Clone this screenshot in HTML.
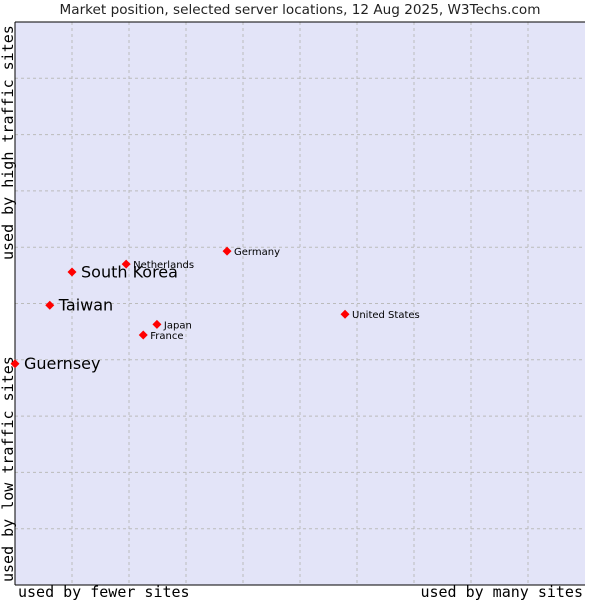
<!DOCTYPE html>
<html><head><meta charset="utf-8"><style>
body{margin:0;background:#fff;width:600px;height:600px;overflow:hidden}
svg{display:block;font-family:"DejaVu Sans","Liberation Sans",sans-serif}
</style></head><body>
<svg id="chart" width="600" height="600">
<text x="300" y="14" text-anchor="middle" font-size="13.6" fill="#222">Market position, selected server locations, 12 Aug 2025, W3Techs.com</text>
<rect x="15" y="22" width="570" height="563" fill="#e3e4f8"/>
<g id="grid"></g>
<line x1="15" y1="22" x2="585" y2="22" stroke="#000"/>
<line x1="15" y1="22" x2="15" y2="585" stroke="#000"/>
<line x1="15" y1="585" x2="585" y2="585" stroke="#000"/>
<text x="18" y="597" font-family="'DejaVu Sans Mono','Liberation Mono',monospace" font-size="15">used by fewer sites</text>
<text x="583" y="597" text-anchor="end" font-family="'DejaVu Sans Mono','Liberation Mono',monospace" font-size="15">used by many sites</text>
<text transform="translate(13,582) rotate(-90)" font-family="'DejaVu Sans Mono','Liberation Mono',monospace" font-size="15">used by low traffic sites</text>
<text transform="translate(13,260) rotate(-90)" font-family="'DejaVu Sans Mono','Liberation Mono',monospace" font-size="15">used by high traffic sites</text>
<g id="points"></g>
</svg>
<script>
const names=["Guernsey","Taiwan","South Korea","Netherlands","Germany","Japan","France","United States"];
const xVals=[0,6.1,10,19.5,37.2,24.9,22.5,57.9];
const yVals=[39.3,49.7,55.6,57.0,59.3,46.3,44.4,48.1];
const highlighted=[true,true,true,false,false,false,false,false];
const NS="http://www.w3.org/2000/svg";
const L=15,R=585,T=22,B=585;
const xs=v=>L+v/100*(R-L);
const ys=v=>B-v/100*(B-T);
const grid=document.getElementById('grid');
for(let i=1;i<10;i++){
  const x=L+i*(R-L)/10,y=T+i*(B-T)/10;
  const v=document.createElementNS(NS,'line');
  
  
  v.setAttribute('x1',x);v.setAttribute('x2',x);v.setAttribute('y1',T);v.setAttribute('y2',B);
  v.setAttribute('stroke','#bbb');v.setAttribute('stroke-dasharray','3,3');
  grid.appendChild(v);
  const h=document.createElementNS(NS,'line');
  
  
  h.setAttribute('x1',L);h.setAttribute('x2',R);h.setAttribute('y1',y);h.setAttribute('y2',y);
  h.setAttribute('stroke','#bbb');h.setAttribute('stroke-dasharray','3,3');
  grid.appendChild(h);
}
const pts=document.getElementById('points');
names.forEach((n,i)=>{
  const x=xs(xVals[i]),y=ys(yVals[i]);
  const d=document.createElementNS(NS,'polygon');
  
  
  d.setAttribute('points',`${x},${y-4.5} ${x+4.5},${y} ${x},${y+4.5} ${x-4.5},${y}`);
  d.setAttribute('fill','#f00');
  pts.appendChild(d);
  const t=document.createElementNS(NS,'text');
  
  
  t.setAttribute('x',x+(highlighted[i]?9:7));
  t.setAttribute('y',y+(highlighted[i]?5.5:4));
  t.setAttribute('font-size',highlighted[i]?'16':'10');
  t.setAttribute('fill','#000');
  t.textContent=n;
  pts.appendChild(t);
});
</script>
</body></html>
